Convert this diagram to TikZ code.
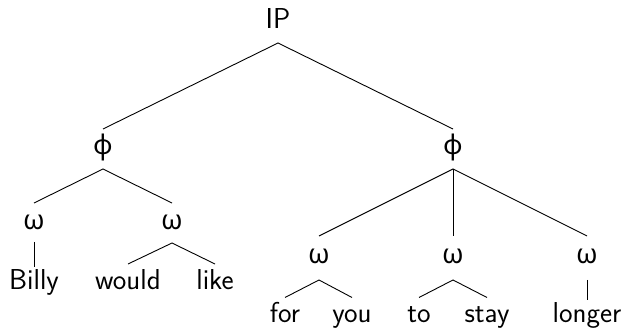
\documentclass[tikz,border=0pt]{standalone}
\usepackage{fontspec}
\newfontfamily\grk{Noto Sans}
\begin{document}
\begin{tikzpicture}[x=1pt,y=-1pt,
  lbl/.style={inner sep=0pt,anchor=base,font=\sffamily\fontsize{28.8}{34}\selectfont},
  grl/.style={inner sep=0pt,anchor=center,font=\grk\fontsize{27}{32}\selectfont},
  br/.style={line width=0.9pt,black}]
\useasboundingbox (0,0) rectangle (627,331);
% nodes
\node[lbl] (ip) at (278,29) {IP};
\node[grl] (phiL) at (103,147.5) {ϕ};
\node[grl] (phiR) at (453,147.5) {ϕ};
\node[grl] (w1) at (34,222.5) {ω};
\node[grl] (w2) at (172,222.5) {ω};
\node[grl] (w3) at (319,256) {ω};
\node[grl] (w4) at (453,256) {ω};
\node[grl] (w5) at (587,256) {ω};
\node[lbl] (billy) at (34,290) {Billy};
\node[lbl] (would) at (128,290) {would};
\node[lbl] (like) at (215,290) {like};
\node[lbl] (for) at (285,322.5) {for};
\node[lbl] (you) at (352,322.5) {you};
\node[lbl] (to) at (419,322.5) {to};
\node[lbl] (stay) at (487,322.5) {stay};
\node[lbl] (longer) at (587,322.5) {longer};
% edge end points
\coordinate (ipB) at (278,43);
\coordinate (phiLT) at (103,129); \coordinate (phiLB) at (103,169);
\coordinate (phiRT) at (453,129); \coordinate (phiRB) at (453,169);
\coordinate (w1T) at (34,203); \coordinate (w1B) at (34,242);
\coordinate (w2T) at (172,203); \coordinate (w2B) at (172,243);
\coordinate (w3T) at (319,236); \coordinate (w3B) at (319,280);
\coordinate (w4T) at (453,236); \coordinate (w4B) at (453,280);
\coordinate (w5T) at (587,236); \coordinate (w5B) at (587,280);
\coordinate (billyT) at (34,267);
\coordinate (wouldT) at (128,264); \coordinate (likeT) at (215,264);
\coordinate (forT) at (285,297.5); \coordinate (youT) at (352,297.5);
\coordinate (toT) at (419,297.5); \coordinate (stayT) at (487,297.5);
\coordinate (longerT) at (587,300);
% branches
\draw[br] (phiLT) -- (ipB) -- (phiRT);
\draw[br] (w1T) -- (phiLB) -- (w2T);
\draw[br] (w3T) -- (phiRB) -- (w5T);
\draw[br] (phiRB) -- (w4T);
\draw[br] (w1B) -- (billyT);
\draw[br] (wouldT) -- (w2B) -- (likeT);
\draw[br] (forT) -- (w3B) -- (youT);
\draw[br] (toT) -- (w4B) -- (stayT);
\draw[br] (w5B) -- (longerT);
\end{tikzpicture}
\end{document}
